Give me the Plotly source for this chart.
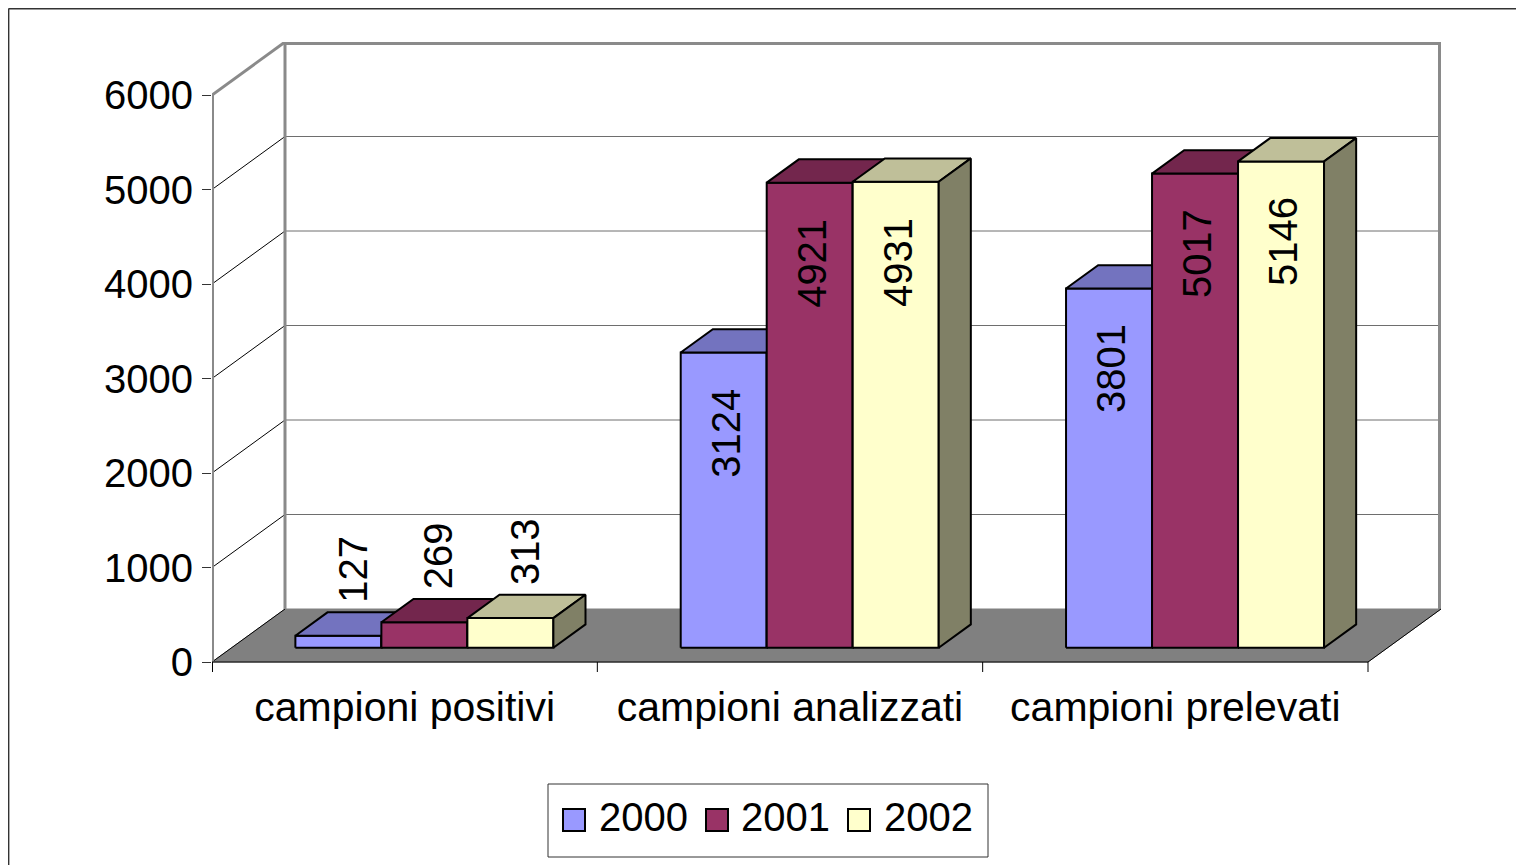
import plotly.graph_objects as go

# data
categories = ["campioni positivi", "campioni analizzati", "campioni prelevati"]
years = ["2000", "2001", "2002"]
values_2000 = [127, 3124, 3801]
values_2001 = [269, 4921, 5017]
values_2002 = [313, 4931, 5146]
y_ticks = [0, 1000, 2000, 3000, 4000, 5000, 6000]

series = [values_2000, values_2001, values_2002]
front_colors = ["#9999FF", "#993366", "#FFFFCC"]
top_colors = ["#7373BF", "#73264D", "#BFBF99"]
side_colors = ["#4D4D80", "#4D1A33", "#808066"]

# page has an 8px body margin, so the figure is shifted by that much
OFF = 8
W, H = 1524 - OFF, 865 - OFF
ML, MR, MT, MB = 212 - OFF, 83, 42 - OFF, 193
CAT_PX = 1156 / 3          # front width of one category
Y_PX = 567 / 6000          # pixels per value unit
DX = 73 / CAT_PX           # depth offset, x
DY = 53 / Y_PX             # depth offset, y
YMAX = 6000
BAR_W = 86 / CAT_PX
F0, FD = 0.27, 0.44        # bar start / thickness as a share of the depth
PW, PH = W - ML - MR, H - MT - MB
FONT = "Liberation Sans, Arial, sans-serif"


# positions below
def px_x(px):
    return (px - OFF - ML) / PW


def px_y(py):
    return (H - MB - (py - OFF)) / PH


def segs(pairs):
    xs, ys = [], []
    for (xa, ya), (xb, yb) in pairs:
        xs += [xa, xb, None]
        ys += [ya, yb, None]
    return xs, ys


fig = go.Figure()

def add_line(pairs, color, width):
    xs, ys = segs(pairs)
    fig.add_trace(go.Scatter(x=xs, y=ys, mode="lines", line=dict(color=color, width=width),
                             hoverinfo="skip", showlegend=False))


x_left, x_right = -0.5, len(categories) - 0.5
# floor
fig.add_trace(go.Scatter(
    x=[x_left, x_right, x_right + DX, x_left + DX, x_left],
    y=[0, 0, DY, DY, 0], fill="toself", fillcolor="#808080", mode="lines",
    line=dict(color="#808080", width=1), hoverinfo="skip", showlegend=False))

# back wall gridlines and side wall gridlines
grid = [v for v in y_ticks if 0 < v < YMAX]
add_line([((x_left + DX, v + DY), (x_right + DX, v + DY)) for v in grid], "#6e6e6e", 1)
add_line([((x_left, v), (x_left + DX, v + DY)) for v in [0] + grid], "#000000", 1)

# wall edges
add_line([((x_left + DX, DY), (x_left + DX, YMAX + DY))], "#8a8a8a", 3)
add_line([((x_left + DX, YMAX + DY), (x_right + DX, YMAX + DY)),
          ((x_right + DX, YMAX + DY), (x_right + DX, DY))], "#8a8a8a", 6)
add_line([((x_left, YMAX), (x_left + DX, YMAX + DY))], "#8a8a8a", 3)
add_line([((x_left, 0), (x_left, YMAX))], "#8a8a8a", 4)

# floor front edge, right edge, category ticks
tick_len = 10 / Y_PX
add_line([((x_left, 0), (x_right, 0)), ((x_right, 0), (x_right + DX, DY))], "#000000", 1)
add_line([((x, 0), (x, -tick_len)) for x in [x_left + k for k in range(len(categories) + 1)]],
         "#000000", 1)
add_line([((x_left, 0), (x_left, -tick_len))], "#000000", 2)

# bars: front, top and side faces, drawn series by series
base = F0 * DY
ddx, ddy = FD * DX, FD * DY
annotations = []
for i, vals in enumerate(series):
    fx, fy, tx, ty, sx, sy = [], [], [], [], [], []
    for c, v in enumerate(vals):
        x0 = c + F0 * DX - 1.5 * BAR_W + i * BAR_W
        x1 = x0 + BAR_W
        t = base + v
        fx += [x0, x1, x1, x0, x0, None]
        fy += [base, base, t, t, base, None]
        tx += [x0, x1, x1 + ddx, x0 + ddx, x0, None]
        ty += [t, t, t + ddy, t + ddy, t, None]
        sx += [x1, x1 + ddx, x1 + ddx, x1, x1, None]
        sy += [base, base + ddy, t + ddy, t, base, None]
        if v * Y_PX > 130:
            annotations.append(dict(x=(x0 + x1) / 2, y=t, yanchor="top", yshift=-34, xshift=2,
                                    text=str(v), textangle=-90, showarrow=False,
                                    font=dict(size=40, color="black")))
        else:
            annotations.append(dict(x=(x0 + x1) / 2 + 0.45 * ddx, y=t + ddy, yanchor="bottom",
                                    yshift=8, text=str(v), textangle=-90, showarrow=False,
                                    font=dict(size=40, color="black")))
    for xs, ys, col in [(fx, fy, front_colors[i]), (tx, ty, top_colors[i]), (sx, sy, side_colors[i])]:
        fig.add_trace(go.Scatter(x=xs, y=ys, fill="toself", fillcolor=col, mode="lines",
                                 line=dict(color="black", width=2), name=years[i],
                                 hoverinfo="skip", showlegend=False))

# legend drawn by hand (bigger swatches than plotly's legend allows)
shapes = [dict(type="rect", xref="paper", yref="paper", x0=px_x(548), x1=px_x(988),
               y0=px_y(857), y1=px_y(784), line=dict(color="#333333", width=1),
               fillcolor="white", layer="above")]
sw_left = [563, 706, 848]
txt_left = [597, 739, 882]
for i, name in enumerate(years):
    shapes.append(dict(type="rect", xref="paper", yref="paper", x0=px_x(sw_left[i]),
                       x1=px_x(sw_left[i] + 22), y0=px_y(831), y1=px_y(809),
                       fillcolor=front_colors[i], line=dict(color="black", width=2), layer="above"))
    annotations.append(dict(xref="paper", yref="paper", x=px_x(txt_left[i]), y=px_y(817),
                            xanchor="left", yanchor="middle", text=name, showarrow=False,
                            font=dict(size=40, color="black")))

# dark frame lines at the page edge
shapes.append(dict(type="line", xref="paper", yref="paper", x0=px_x(8.6), x1=px_x(1524),
                   y0=px_y(8.6), y1=px_y(8.6), line=dict(color="#333333", width=1.6)))
shapes.append(dict(type="line", xref="paper", yref="paper", x0=px_x(8.6), x1=px_x(8.6),
                   y0=px_y(8.6), y1=px_y(865), line=dict(color="#333333", width=1.6)))

fig.update_layout(
    width=W, height=H,
    margin=dict(l=ML, r=MR, t=MT, b=MB, pad=0),
    paper_bgcolor="white", plot_bgcolor="white",
    font=dict(family=FONT, color="black"),
    showlegend=False,
    xaxis=dict(range=[x_left, x_right + DX], tickvals=list(range(len(categories))),
               ticktext=categories, showgrid=False, zeroline=False, showline=False,
               ticks="", tickfont=dict(size=41), ticklabelstandoff=7,
               automargin=False, fixedrange=True),
    yaxis=dict(range=[-tick_len, YMAX + DY], tickvals=y_ticks, ticktext=[str(v) for v in y_ticks],
               showgrid=False, zeroline=False, showline=False, ticks="outside", ticklen=9,
               tickcolor="#333333", tickwidth=1, tickfont=dict(size=40),
               ticklabelstandoff=1, automargin=False, fixedrange=True),
    shapes=shapes,
    annotations=annotations,
)

fig.write_html("out.html")
